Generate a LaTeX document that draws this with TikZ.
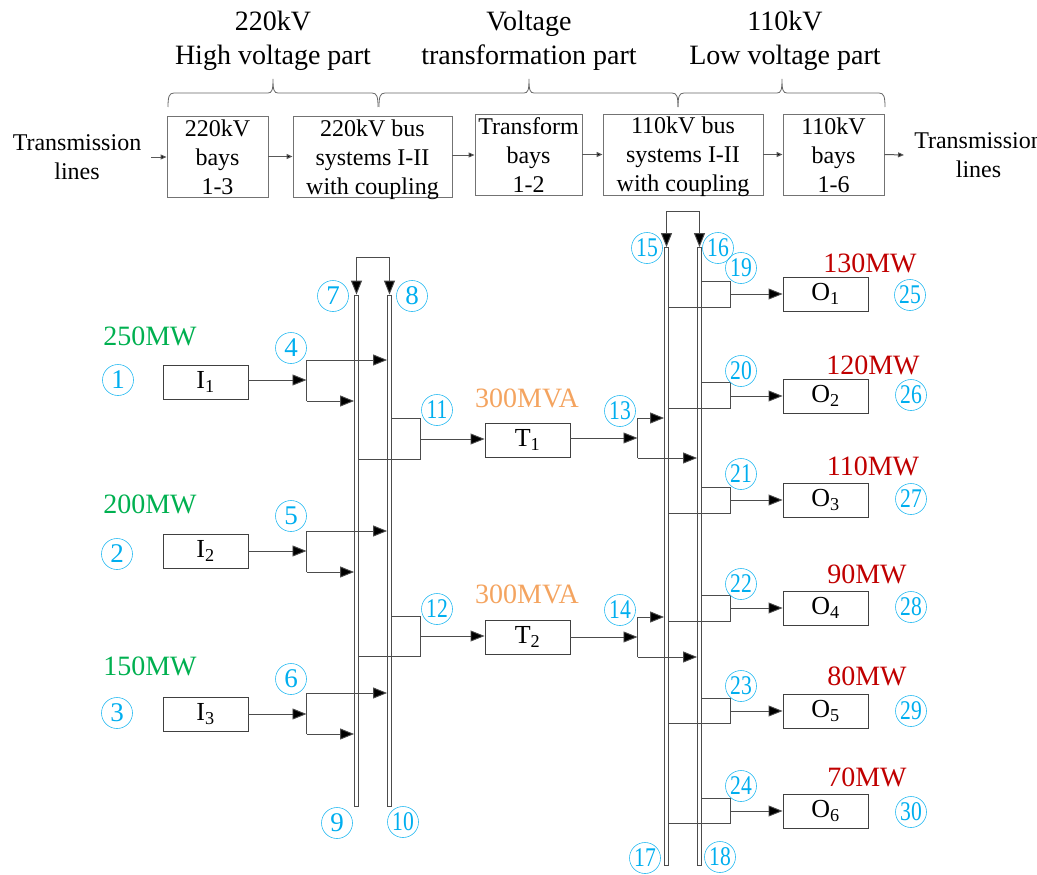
\documentclass[tikz,border=0pt]{standalone}
\usepackage{fontspec}
\setmainfont{Liberation Serif}
\usepackage{graphicx}
\usetikzlibrary{arrows.meta}
\definecolor{numcyan}{HTML}{00AEEF}
\definecolor{ingreen}{HTML}{00B050}
\definecolor{trorange}{HTML}{F4A460}
\definecolor{outred}{HTML}{C00000}
\newcommand{\twodig}[1]{\scalebox{0.8}[1]{#1}}
% left end, middle and right end of a bracket
\newcommand{\partbrace}[3]{\draw[bracket] (#1,107) .. controls (#1,97) and ({#1+1},93) .. ({#1+6},93) -- ({#2-5},93) .. controls ({#2-1},93) and (#2,90) .. (#2,79) .. controls (#2,90) and ({#2+1},93) .. ({#2+5},93) -- ({#3-6},93) .. controls ({#3-1},93) and (#3,97) .. (#3,107);}
\begin{document}
\begin{tikzpicture}[x=1pt,y=-1pt,
    flowbox/.style={draw=black!55,line width=0.9pt,inner sep=0pt,minimum height=81pt},
    flowtext/.style={inner sep=0pt,align=center,font=\fontsize{24}{29}\selectfont},
    headtext/.style={inner sep=0pt,align=center,font=\fontsize{28}{34}\selectfont},
    flowarrow/.style={draw=black!65,line width=1pt,-{Triangle[length=6pt,width=5pt,fill=black]}},
    bracket/.style={draw=black!60,line width=0.8pt},
    unitbox/.style={draw=black!75,line width=0.9pt,inner sep=0pt,minimum width=85pt,minimum height=34pt,font=\fontsize{26}{30}\selectfont},
    busbar/.style={draw=black!70,line width=0.8pt,inner sep=0pt,minimum width=4pt},
    wire/.style={draw=black!70,line width=0.9pt},
    wirearrow/.style={draw=black!70,line width=0.9pt,-{Triangle[length=14pt,width=11pt,fill=black]}},
    numnode/.style={draw=numcyan!85,line width=0.6pt,circle,inner sep=0pt,minimum size=31pt,text=numcyan,font=\fontsize{27}{30}\selectfont},
    powerin/.style={inner sep=0pt,text=ingreen,font=\fontsize{28}{30}\selectfont},
    powertr/.style={inner sep=0pt,text=trorange,font=\fontsize{28}{30}\selectfont},
    powerout/.style={inner sep=0pt,text=outred,font=\fontsize{28}{30}\selectfont}]
  \useasboundingbox (0,0) rectangle (1037,875);
  % top row
  \node[flowbox,minimum width=101pt] (baysa) at (217.5,156.5) {};
  \node[flowbox,minimum width=159pt] (busa) at (372.5,156.5) {};
  \node[flowbox,minimum width=107pt] (bayst) at (528.5,155) {};
  \node[flowbox,minimum width=160pt] (busb) at (683,154.5) {};
  \node[flowbox,minimum width=101pt] (baysb) at (833.5,154.5) {};
  \node[flowtext] (linesin) at (77,157) {Transmission\\lines};
  \node[flowtext] (baysatext) at (217.5,157) {220kV\\bays\\1-3};
  \node[flowtext] (busatext) at (372.5,160) {220kV bus\\systems I-II\\with coupling};
  \node[flowtext] (baystext) at (528.5,155) {Transform\\bays\\1-2};
  \node[flowtext] (busbtext) at (683,157) {110kV bus\\systems I-II\\with coupling};
  \node[flowtext] (baysbtext) at (833.5,155) {110kV\\bays\\1-6};
  \node[flowtext] (linesout) at (978.5,155) {Transmission\\lines};
  \coordinate (linesina) at (151,157);
  \coordinate (linesouta) at (904,155);
  \draw[flowarrow] (linesina) -- (baysa.west |- linesina);
  \draw[flowarrow] (baysa.east |- busa) -- (busa.west);
  \draw[flowarrow] (busa.east |- bayst) -- (bayst.west);
  \draw[flowarrow] (bayst.east |- busb) -- (busb.west);
  \draw[flowarrow] (busb.east) -- (baysb.west);
  \draw[flowarrow] (baysb.east) -- (linesouta);
  % three brackets
  \partbrace{168}{273}{378}
  \partbrace{379}{529}{678}
  \partbrace{678}{782}{885}
  \node[headtext] (heada) at (273,41) {220kV\\High voltage part};
  \node[headtext] (headb) at (529,41) {Voltage\\transformation part};
  \node[headtext] (headc) at (785,41) {110kV\\Low voltage part};
  % four bus bars
  \node[busbar,minimum height=511pt] (bus7) at (356.5,550.5) {};
  \node[busbar,minimum height=511pt] (bus8) at (389.5,550.5) {};
  \node[busbar,minimum height=618pt] (bus15) at (666.5,556.5) {};
  \node[busbar,minimum height=618pt] (bus16) at (699.5,556.5) {};
  % boxes
  \node[unitbox] (I1) at (205.5,382) {I\textsubscript{1}};
  \node[unitbox] (I2) at (205.5,551) {I\textsubscript{2}};
  \node[unitbox] (I3) at (205.5,714) {I\textsubscript{3}};
  \node[unitbox] (T1) at (527.5,440) {T\textsubscript{1}};
  \node[unitbox] (T2) at (527.5,637) {T\textsubscript{2}};
  \node[unitbox] (O1) at (825.5,294) {O\textsubscript{1}};
  \node[unitbox] (O2) at (825.5,396) {O\textsubscript{2}};
  \node[unitbox] (O3) at (825.5,500) {O\textsubscript{3}};
  \node[unitbox] (O4) at (825.5,608) {O\textsubscript{4}};
  \node[unitbox] (O5) at (825.5,711) {O\textsubscript{5}};
  \node[unitbox] (O6) at (825.5,811) {O\textsubscript{6}};
  % coupling loops
  \coordinate (coupa) at (356.5,257);
  \coordinate (coupb) at (389.5,257);
  \coordinate (coupc) at (666.5,211);
  \coordinate (coupd) at (699.5,211);
  \draw[wirearrow] (coupa) -- (coupb) -- (bus8.north);
  \draw[wirearrow] (coupa) -- (bus7.north);
  \draw[wirearrow] (coupc) -- (coupd) -- (bus16.north);
  \draw[wirearrow] (coupc) -- (bus15.north);
  % infeed junctions
  \coordinate (j4) at (306.5,380);
  \coordinate (j4a) at (306.5,360);
  \coordinate (j4b) at (306.5,401);
  \coordinate (j5) at (306.5,551);
  \coordinate (j5a) at (306.5,531);
  \coordinate (j5b) at (306.5,572);
  \coordinate (j6) at (306.5,714);
  \coordinate (j6a) at (306.5,693);
  \coordinate (j6b) at (306.5,734);
  \draw[wirearrow] (I1.east |- j4) -- (j4);
  \draw[wirearrow] (I2) -- (j5);
  \draw[wirearrow] (I3) -- (j6);
  \draw[wirearrow] (j4b) -- (j4a) -- (j4a -| bus8.west);
  \draw[wirearrow] (j4b) -- (j4b -| bus7.west);
  \draw[wirearrow] (j5b) -- (j5a) -- (j5a -| bus8.west);
  \draw[wirearrow] (j5b) -- (j5b -| bus7.west);
  \draw[wirearrow] (j6b) -- (j6a) -- (j6a -| bus8.west);
  \draw[wirearrow] (j6b) -- (j6b -| bus7.west);
  % transformer junctions
  \coordinate (j11) at (420.5,439);
  \coordinate (j11a) at (420.5,418);
  \coordinate (j11b) at (420.5,459);
  \coordinate (j12) at (420.5,636);
  \coordinate (j12a) at (420.5,616);
  \coordinate (j12b) at (420.5,656);
  \coordinate (j13) at (637.5,438);
  \coordinate (j13a) at (637.5,418);
  \coordinate (j13b) at (637.5,458);
  \coordinate (j14) at (637.5,637);
  \coordinate (j14a) at (637.5,617);
  \coordinate (j14b) at (637.5,657);
  \draw[wire] (j11a -| bus8.east) -- (j11a) -- (j11b) -- (j11b -| bus7.east);
  \draw[wire] (j12a -| bus8.east) -- (j12a) -- (j12b) -- (j12b -| bus7.east);
  \draw[wirearrow] (j11) -- (T1.west |- j11);
  \draw[wirearrow] (j12) -- (T2.west |- j12);
  \draw[wirearrow] (T1.east |- j13) -- (j13);
  \draw[wirearrow] (T2) -- (j14);
  \draw[wirearrow] (j13b) -- (j13a) -- (j13a -| bus15.west);
  \draw[wirearrow] (j13b) -- (j13b -| bus16.west);
  \draw[wirearrow] (j14b) -- (j14a) -- (j14a -| bus15.west);
  \draw[wirearrow] (j14b) -- (j14b -| bus16.west);
  % outfeed junctions
  \coordinate (j19) at (730.5,294);
  \coordinate (j19a) at (730.5,281);
  \coordinate (j19b) at (730.5,307);
  \coordinate (j20) at (730.5,396);
  \coordinate (j20a) at (730.5,382);
  \coordinate (j20b) at (730.5,408);
  \coordinate (j21) at (730.5,500);
  \coordinate (j21a) at (730.5,487);
  \coordinate (j21b) at (730.5,513);
  \coordinate (j22) at (730.5,608);
  \coordinate (j22a) at (730.5,595);
  \coordinate (j22b) at (730.5,621);
  \coordinate (j23) at (730.5,711);
  \coordinate (j23a) at (730.5,698);
  \coordinate (j23b) at (730.5,723);
  \coordinate (j24) at (730.5,811);
  \coordinate (j24a) at (730.5,798);
  \coordinate (j24b) at (730.5,823);
  \draw[wire] (j19a -| bus16.east) -- (j19a) -- (j19b) -- (j19b -| bus15.east);
  \draw[wire] (j20a -| bus16.east) -- (j20a) -- (j20b) -- (j20b -| bus15.east);
  \draw[wire] (j21a -| bus16.east) -- (j21a) -- (j21b) -- (j21b -| bus15.east);
  \draw[wire] (j22a -| bus16.east) -- (j22a) -- (j22b) -- (j22b -| bus15.east);
  \draw[wire] (j23a -| bus16.east) -- (j23a) -- (j23b) -- (j23b -| bus15.east);
  \draw[wire] (j24a -| bus16.east) -- (j24a) -- (j24b) -- (j24b -| bus15.east);
  \draw[wirearrow] (j19) -- (O1);
  \draw[wirearrow] (j20) -- (O2);
  \draw[wirearrow] (j21) -- (O3);
  \draw[wirearrow] (j22) -- (O4);
  \draw[wirearrow] (j23) -- (O5);
  \draw[wirearrow] (j24) -- (O6);
  % power labels
  \node[powerin] (p1) at (150,336) {250MW};
  \node[powerin] (p2) at (150,504) {200MW};
  \node[powerin] (p3) at (150,666) {150MW};
  \node[powertr] (pt1) at (527,398) {300MVA};
  \node[powertr] (pt2) at (527,594) {300MVA};
  \node[powerout] (po1) at (870,263) {130MW};
  \node[powerout] (po2) at (873,365) {120MW};
  \node[powerout] (po3) at (873,466) {110MW};
  \node[powerout] (po4) at (867,574) {90MW};
  \node[powerout] (po5) at (867,676) {80MW};
  \node[powerout] (po6) at (867,777) {70MW};
  % numbers
  \node[numnode] (n1) at (118,380) {1};
  \node[numnode] (n2) at (117,554) {2};
  \node[numnode] (n3) at (117,713) {3};
  \node[numnode] (n4) at (291,348) {4};
  \node[numnode] (n5) at (291,516) {5};
  \node[numnode] (n6) at (291,679) {6};
  \node[numnode] (n7) at (333,296) {7};
  \node[numnode] (n8) at (412,296) {8};
  \node[numnode] (n9) at (337,823) {9};
  \node[numnode] (n10) at (403,822) {\twodig{10}};
  \node[numnode] (n11) at (437,410) {\twodig{11}};
  \node[numnode] (n12) at (437,609) {\twodig{12}};
  \node[numnode] (n13) at (620,411) {\twodig{13}};
  \node[numnode] (n14) at (620,610) {\twodig{14}};
  \node[numnode] (n15) at (647,248) {\twodig{15}};
  \node[numnode] (n16) at (718,248) {\twodig{16}};
  \node[numnode] (n17) at (645,858) {\twodig{17}};
  \node[numnode] (n18) at (720,857) {\twodig{18}};
  \node[numnode] (n19) at (741,268) {\twodig{19}};
  \node[numnode] (n20) at (741,371) {\twodig{20}};
  \node[numnode] (n21) at (741,474) {\twodig{21}};
  \node[numnode] (n22) at (741,584) {\twodig{22}};
  \node[numnode] (n23) at (741,686) {\twodig{23}};
  \node[numnode] (n24) at (741,786) {\twodig{24}};
  \node[numnode] (n25) at (910,295) {\twodig{25}};
  \node[numnode] (n26) at (911,395) {\twodig{26}};
  \node[numnode] (n27) at (911,499) {\twodig{27}};
  \node[numnode] (n28) at (911,607) {\twodig{28}};
  \node[numnode] (n29) at (911,711) {\twodig{29}};
  \node[numnode] (n30) at (911,812) {\twodig{30}};
\end{tikzpicture}
\end{document}
